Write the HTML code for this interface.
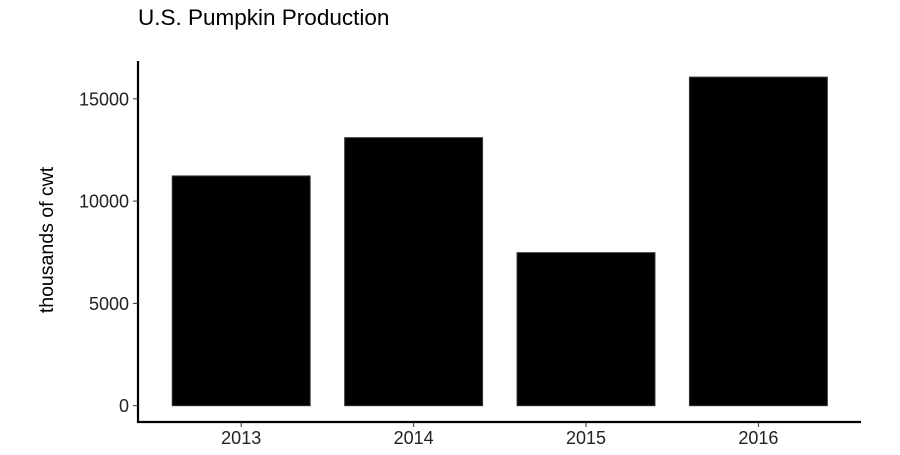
<!DOCTYPE html>
<html><head><meta charset="utf-8"><style>
body{margin:0;background:#fff;}
svg text{font-family:"Liberation Sans",Arial,sans-serif;}
</style></head><body>
<svg width="900" height="450" xmlns="http://www.w3.org/2000/svg">
<text x="138" y="25" font-size="22.5" fill="#000">U.S. Pumpkin Production</text>
<g id="plot"></g>
</svg>
<script>
const categories = ["2013","2014","2015","2016"];
const values = [11230, 13100, 7480, 16060];
const yTicks = [0, 5000, 10000, 15000];
const x0 = 138, xStep = 172.4, y0 = 405.7, pxPer = 102.3/5000;
function xc(i){ return 241.2 + i*xStep; }
function ys(v){ return y0 - v*pxPer; }
const g = document.getElementById('plot');
const NS = "http://www.w3.org/2000/svg";
function mk(t, attrs){ const e=document.createElementNS(NS,t); for(const k in attrs) e.setAttribute(k, attrs[k]); g.appendChild(e); return e; }
const bw = 0.8*xStep;
values.forEach((v,i)=>{
  const r = mk('rect',{x:xc(i)-bw/2, y:ys(v), width:bw, height:y0-ys(v), fill:'#000', stroke:'#333', 'stroke-width':1});
  
  
});
const ya = mk('line',{x1:x0, y1:61, x2:x0, y2:423, stroke:'#000', 'stroke-width':2.2});


const xa = mk('line',{x1:137, y1:422, x2:861, y2:422, stroke:'#000', 'stroke-width':2.2});


yTicks.forEach(t=>{
  mk('line',{x1:x0-5, y1:ys(t), x2:x0, y2:ys(t), stroke:'#333', 'stroke-width':1});
  const tx = mk('text',{x:x0-9, y:ys(t)+6.5, 'font-size':18, 'text-anchor':'end', fill:'#222'});
  tx.textContent = t;
  
  
});
categories.forEach((c,i)=>{
  mk('line',{x1:xc(i), y1:422, x2:xc(i), y2:427, stroke:'#333', 'stroke-width':1});
  const tx = mk('text',{x:xc(i), y:444, 'font-size':18, 'text-anchor':'middle', fill:'#222'});
  tx.textContent = c;
  
  
});
const yt = mk('text',{x:0, y:0, 'font-size':19.5, 'text-anchor':'middle', fill:'#000', transform:'translate(53,240) rotate(-90)'});
yt.textContent = 'thousands of cwt';


</script>
</body></html>
